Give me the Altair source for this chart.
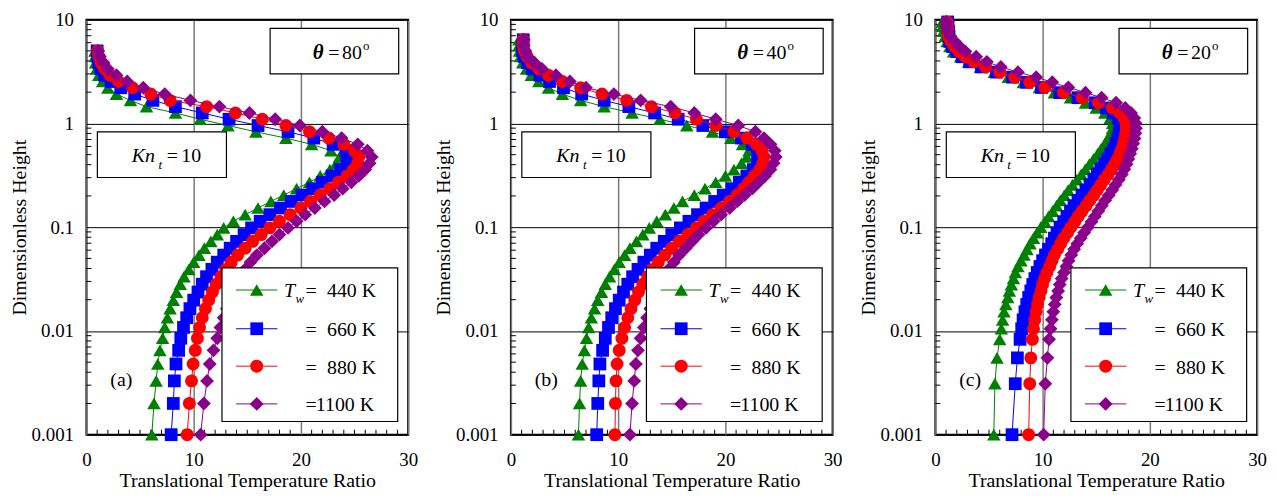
import altair as alt
import pandas as pd

# ---------------- data ----------------
SERIES = ["440 K", "660 K", "880 K", "1100 K"]
THETAS = ["80", "40", "20"]
PANEL_TAGS = ["(a)", "(b)", "(c)"]
X_TICKS = [0, 10, 20, 30]
Y_TICKS = [0.001, 0.01, 0.1, 1, 10]
X_MINOR = [1, 2, 3, 4, 5, 6, 7, 8, 9, 11, 12, 13, 14, 15, 16, 17, 18, 19,
           21, 22, 23, 24, 25, 26, 27, 28, 29]
Y_MINOR = [0.002, 0.003, 0.004, 0.005, 0.006, 0.007, 0.008, 0.009,
           0.02, 0.03, 0.04, 0.05, 0.06, 0.07, 0.08, 0.09,
           0.2, 0.3, 0.4, 0.5, 0.6, 0.7, 0.8, 0.9,
           2, 3, 4, 5, 6, 7, 8, 9]

# dimensionless heights of the plotted points
H_A = [0.001, 0.002, 0.0033, 0.0048, 0.0065, 0.0085, 0.0108, 0.0134, 0.0164, 0.0198,
       0.0237, 0.0282, 0.0333, 0.0392, 0.046, 0.0538, 0.0627, 0.073, 0.0848, 0.0984,
       0.114, 0.132, 0.153, 0.177, 0.204, 0.235, 0.271, 0.312, 0.359, 0.413,
       0.475, 0.546, 0.628, 0.722, 0.83, 0.954, 1.097, 1.261, 1.45, 1.667,
       1.917, 2.204, 2.534, 2.913, 3.349, 3.85, 4.42, 5.0]
H_B = [0.001, 0.002, 0.0033, 0.0048, 0.0065, 0.0085, 0.0108, 0.0134, 0.0164, 0.0198,
       0.0237, 0.0282, 0.0333, 0.0392, 0.046, 0.0538, 0.0627, 0.073, 0.0848, 0.0984,
       0.114, 0.132, 0.153, 0.177, 0.204, 0.235, 0.271, 0.312, 0.359, 0.413,
       0.475, 0.546, 0.628, 0.722, 0.83, 0.954, 1.097, 1.261, 1.45, 1.667,
       1.917, 2.204, 2.534, 2.913, 3.349, 3.85, 4.42, 5.0, 5.65, 6.4]
H_C = [0.001, 0.0031, 0.0055, 0.0083, 0.0105, 0.0128, 0.0153, 0.018, 0.021, 0.0243,
       0.028, 0.032, 0.0366, 0.0418, 0.0475, 0.054, 0.0612, 0.0693, 0.0784, 0.0886,
       0.1, 0.113, 0.127, 0.143, 0.161, 0.181, 0.203, 0.228, 0.256, 0.287,
       0.322, 0.361, 0.405, 0.454, 0.509, 0.57, 0.639, 0.716, 0.802, 0.898,
       1.005, 1.125, 1.26, 1.41, 1.58, 1.77, 1.98, 2.22, 2.49, 2.79,
       3.12, 3.5, 3.92, 4.39, 4.92, 5.51, 6.17, 6.91, 7.74, 8.67, 9.5]

# translational temperature ratio, panel (a) theta = 80
A_440 = [6.1, 6.3, 6.5, 6.65, 6.85, 7.1, 7.3, 7.55, 7.8, 8.1,
         8.4, 8.75, 9.1, 9.55, 10.0, 10.5, 11.0, 11.6, 12.2, 12.8,
         13.7, 14.8, 16.0, 17.2, 18.4, 19.6, 20.8, 21.8, 22.7, 23.3,
         23.6, 22.8, 21.0, 18.6, 15.8, 13.2, 10.6, 8.3, 5.6, 4.1,
         2.8, 2.0, 1.5, 1.15, 0.95, 0.85, 0.8, 0.8]
A_660 = [7.9, 8.1, 8.2, 8.35, 8.6, 8.8, 9.05, 9.35, 9.65, 10.0,
         10.4, 10.8, 11.2, 11.7, 12.2, 12.8, 13.4, 14.0, 14.7, 15.4,
         16.2, 17.1, 18.1, 19.1, 20.1, 21.1, 22.0, 22.9, 23.7, 24.3,
         24.6, 24.2, 23.0, 21.2, 18.8, 16.0, 13.3, 10.8, 8.3, 6.2,
         4.5, 3.2, 2.3, 1.7, 1.35, 1.15, 1.05, 1.0]
A_880 = [9.4, 9.6, 9.8, 9.95, 10.15, 10.35, 10.55, 10.8, 11.1, 11.4,
         11.75, 12.1, 12.55, 13.0, 13.5, 14.1, 14.8, 15.5, 16.3, 17.1,
         18.0, 19.0, 20.0, 20.9, 21.8, 22.7, 23.5, 24.3, 24.9, 25.3,
         25.4, 25.0, 24.0, 22.6, 20.8, 18.6, 16.4, 13.9, 11.2, 7.8,
         6.0, 4.3, 3.0, 2.2, 1.7, 1.35, 1.15, 1.05]
A_1100 = [10.65, 10.95, 11.25, 11.5, 11.85, 12.2, 12.5, 12.8, 13.1, 13.4,
          13.7, 14.0, 14.4, 14.8, 15.3, 15.9, 16.6, 17.3, 18.0, 18.8,
          19.6, 20.4, 21.3, 22.2, 23.1, 23.9, 24.7, 25.4, 26.0, 26.4,
          26.6, 26.2, 25.3, 23.8, 22.0, 19.9, 17.6, 15.2, 12.4, 9.7,
          7.3, 5.3, 3.8, 2.8, 2.0, 1.6, 1.25, 1.1]

# panel (b) theta = 40
B_440 = [6.3, 6.4, 6.5, 6.65, 6.85, 7.05, 7.25, 7.5, 7.8, 8.1,
         8.45, 8.8, 9.2, 9.65, 10.1, 10.6, 11.1, 11.7, 12.3, 12.9,
         13.6, 14.4, 15.2, 16.0, 17.1, 18.1, 19.1, 20.0, 20.8, 21.5,
         22.0, 22.2, 21.6, 20.5, 18.8, 16.4, 13.9, 11.3, 8.7, 6.5,
         4.8, 3.5, 2.6, 1.9, 1.45, 1.1, 0.9, 0.8, 0.75, 0.75]
B_660 = [8.0, 8.1, 8.2, 8.3, 8.55, 8.8, 9.1, 9.4, 9.75, 10.1,
         10.5, 10.9, 11.35, 11.85, 12.4, 13.0, 13.6, 14.3, 15.0, 15.8,
         16.6, 17.4, 18.2, 19.0, 19.8, 20.6, 21.3, 22.0, 22.6, 23.0,
         23.2, 23.0, 22.5, 21.5, 20.0, 17.9, 15.6, 13.4, 11.0, 8.7,
         6.6, 4.9, 3.6, 2.7, 2.0, 1.55, 1.25, 1.1, 1.1, 1.15]
B_880 = [9.7, 9.75, 9.8, 9.9, 10.1, 10.35, 10.6, 10.9, 11.2, 11.55,
         11.9, 12.3, 12.75, 13.2, 13.75, 14.35, 15.0, 15.7, 16.5, 17.3,
         18.0, 18.8, 19.6, 20.4, 21.1, 21.7, 22.2, 22.7, 23.2, 23.5,
         23.6, 23.4, 22.9, 22.0, 20.8, 19.1, 17.3, 15.3, 13.1, 10.8,
         8.5, 6.5, 4.8, 3.5, 2.6, 1.95, 1.5, 1.25, 1.15, 1.15]
B_1100 = [11.1, 11.3, 11.5, 11.65, 11.85, 12.1, 12.4, 12.7, 13.0, 13.3,
          13.6, 13.9, 14.3, 14.7, 15.2, 15.7, 16.3, 16.9, 17.5, 18.2,
          18.9, 19.6, 20.4, 21.1, 21.8, 22.5, 23.1, 23.7, 24.2, 24.5,
          24.7, 24.6, 24.2, 23.6, 22.8, 21.2, 19.1, 17.1, 14.9, 12.1,
          9.6, 7.0, 5.5, 4.2, 2.9, 2.2, 1.55, 1.35, 1.2, 1.2]

# panel (c) theta = 20
C_440 = [5.45, 5.55, 5.75, 6.0, 6.15, 6.27, 6.4, 6.57, 6.75, 6.9,
         7.08, 7.28, 7.46, 7.7, 7.98, 8.27, 8.54, 8.83, 9.15, 9.48,
         9.83, 10.2, 10.55, 10.93, 11.3, 11.65, 12.02, 12.38, 12.78, 13.2,
         13.6, 13.98, 14.36, 14.74, 15.12, 15.45, 15.8, 16.1, 16.35, 16.52,
         16.53, 16.3, 15.8, 15.0, 14.0, 12.6, 11.1, 9.7, 8.2, 6.8,
         5.5, 4.2, 3.1, 2.35, 1.7, 1.35, 1.1, 0.9, 0.75, 0.67, 0.65]
C_660 = [7.15, 7.45, 7.65, 7.9, 8.05, 8.18, 8.35, 8.52, 8.7, 8.9,
         9.08, 9.28, 9.5, 9.75, 10.0, 10.27, 10.55, 10.85, 11.1, 11.35,
         11.63, 11.96, 12.27, 12.6, 12.93, 13.3, 13.67, 14.04, 14.42, 14.78,
         15.1, 15.43, 15.77, 16.07, 16.36, 16.62, 16.86, 17.02, 17.15, 17.24,
         17.23, 17.05, 16.6, 15.95, 14.9, 13.3, 11.6, 9.9, 8.5, 7.2,
         5.7, 4.3, 3.2, 2.5, 2.0, 1.6, 1.35, 1.27, 1.22, 1.18, 1.15]
C_880 = [8.7, 8.8, 8.9, 9.05, 9.15, 9.27, 9.4, 9.53, 9.67, 9.85,
         10.0, 10.18, 10.4, 10.66, 10.87, 11.1, 11.4, 11.68, 11.97, 12.33,
         12.63, 13.0, 13.32, 13.68, 14.05, 14.4, 14.77, 15.1, 15.43, 15.75,
         16.1, 16.43, 16.72, 16.98, 17.2, 17.39, 17.55, 17.67, 17.75, 17.8,
         17.77, 17.6, 17.2, 16.5, 15.2, 13.7, 11.95, 10.2, 8.8, 7.4,
         6.0, 4.7, 3.6, 2.8, 2.2, 1.8, 1.45, 1.22, 1.15, 1.12, 1.1]
C_1100 = [10.1, 10.25, 10.45, 10.6, 10.74, 10.87, 11.0, 11.13, 11.28, 11.45,
          11.6, 11.78, 12.0, 12.22, 12.42, 12.67, 12.94, 13.23, 13.55, 13.88,
          14.23, 14.56, 14.87, 15.2, 15.52, 15.83, 16.17, 16.5, 16.8, 17.1,
          17.38, 17.62, 17.83, 18.0, 18.17, 18.32, 18.45, 18.57, 18.65, 18.7,
          18.67, 18.55, 18.25, 17.7, 16.85, 15.5, 14.0, 12.4, 10.9, 9.4,
          7.7, 6.1, 4.8, 3.8, 2.8, 2.25, 1.8, 1.4, 1.15, 1.03, 1.0]

PANELS = [
    (H_A, [A_440, A_660, A_880, A_1100]),
    (H_B, [B_440, B_660, B_880, B_1100]),
    (H_C, [C_440, C_660, C_880, C_1100]),
]

# ---------------- styling ----------------
FONT = "Liberation Serif"
COLORS = ["#008000", "#0000ff", "#ff0000", "#8b008b"]
SHAPES = ["triangle-up", "square", "circle", "diamond"]
SIZES = [185, 165, 170, 195]
W, H = 324, 418

DUMMY = pd.DataFrame({"d": [0]})

xs = alt.Scale(domain=[0, 30], nice=False, zero=False)
ys = alt.Scale(type="log", domain=[0.001, 10], nice=False)
xaxis = alt.Axis(values=X_TICKS, title="Translational Temperature Ratio", grid=True,
                 ticks=False, tickSize=0, domain=False, labelPadding=16, titlePadding=1,
                 labelFlush=False, labelOverlap=False, format="d",
                 labelFont=FONT, titleFont=FONT, labelFontSize=19, titleFontSize=20,
                 gridColor="#7a7a7a", gridWidth=1.5)
yaxis = alt.Axis(values=Y_TICKS, title="Dimensionless Height", grid=True,
                 ticks=False, tickSize=0, domain=False, labelPadding=13, titlePadding=2,
                 labelFlush=False, labelOverlap=False, format="~g",
                 labelFont=FONT, titleFont=FONT, labelFontSize=19, titleFontSize=20,
                 gridColor="#000000", gridWidth=1)
XENC = alt.X("x:Q", scale=xs, axis=xaxis)
YENC = alt.Y("h:Q", scale=ys, axis=yaxis)


def txt(s, x, y, size=20, italic=False, bold=False):
    return alt.Chart(DUMMY).mark_text(
        text=s, font=FONT, fontSize=size, fontStyle="italic" if italic else "normal",
        fontWeight="bold" if bold else "normal",
        align="left", baseline="alphabetic", color="black"
    ).encode(x=alt.value(x), y=alt.value(y))


def box(x0, y0, x1, y1):
    return alt.Chart(DUMMY).mark_rect(fill="white", stroke="black", strokeWidth=1.2).encode(
        x=alt.value(x0), x2=alt.value(x1), y=alt.value(y0), y2=alt.value(y1))


def panel(k):
    heights, xs_list = PANELS[k]
    layers = []
    # inner minor ticks
    layers.append(alt.Chart(pd.DataFrame({"x": X_MINOR})).mark_rule(color="black", strokeWidth=1).encode(
        x=XENC, y=alt.value(H), y2=alt.value(H - 5)))
    layers.append(alt.Chart(pd.DataFrame({"h": Y_MINOR})).mark_rule(color="black", strokeWidth=1).encode(
        y=YENC, x=alt.value(0), x2=alt.value(5)))
    for j in range(4):
        df = pd.DataFrame({"i": list(range(len(heights))), "h": heights, "x": xs_list[j]})
        base = alt.Chart(df)
        layers.append(base.mark_line(color=COLORS[j], strokeWidth=1).encode(
            x=XENC, y=YENC, order=alt.Order("i:Q")))
        layers.append(base.mark_point(filled=True, shape=SHAPES[j], size=SIZES[j], color=COLORS[j],
                                      opacity=1, strokeWidth=0).encode(x=XENC, y=YENC))
    # theta box
    layers.append(box(185, 8.7, 314.5, 54.7))
    layers.append(txt("θ", 228, 40, size=21, italic=True, bold=True))
    layers.append(txt("=", 243.5, 39.5))
    layers.append(txt(THETAS[k], 257.5, 39.5))
    layers.append(txt("o", 278.5, 31, size=13))
    # Kn box
    layers.append(box(11, 113, 141, 159))
    layers.append(txt("Kn", 45.7, 143, italic=True))
    layers.append(txt("t", 72.5, 150, size=13, italic=True))
    layers.append(txt("=", 81, 143))
    layers.append(txt("10", 95.5, 143))
    # panel tag
    layers.append(txt(PANEL_TAGS[k], 24, 369))
    # legend
    layers.append(box(136.5, 250, 313.5, 404.7))
    rows = [272.3, 311.3, 349, 387]
    for j in range(4):
        layers.append(alt.Chart(DUMMY).mark_rule(color=COLORS[j], strokeWidth=1).encode(
            x=alt.value(150.7), x2=alt.value(192.3), y=alt.value(rows[j])))
        layers.append(alt.Chart(DUMMY).mark_point(filled=True, shape=SHAPES[j], size=SIZES[j],
                                                  color=COLORS[j], opacity=1, strokeWidth=0).encode(
            x=alt.value(171.5), y=alt.value(rows[j])))
        layers.append(txt("=", 220.7, rows[j] + 7.4))
        layers.append(txt(SERIES[j], 231 if j == 3 else 242.3, rows[j] + 7.4))
    layers.append(txt("T", 199, rows[0] + 7.4, italic=True))
    layers.append(txt("w", 210.5, rows[0] + 12.7, size=13, italic=True))
    return alt.layer(*layers).properties(width=W, height=H)


chart = alt.hconcat(panel(0), panel(1), panel(2), spacing=103.5, bounds="flush").properties(
    padding={"left": 0, "top": 0, "right": 0, "bottom": 0}
).configure_axis(
    labelFont=FONT, labelFontSize=19, titleFont=FONT, titleFontSize=20, titleFontWeight="normal",
    labelColor="black", titleColor="black", gridOpacity=1
).configure_view(stroke="black", strokeWidth=2)

chart.save("out.html", embed_options={"renderer": "svg", "actions": False})
